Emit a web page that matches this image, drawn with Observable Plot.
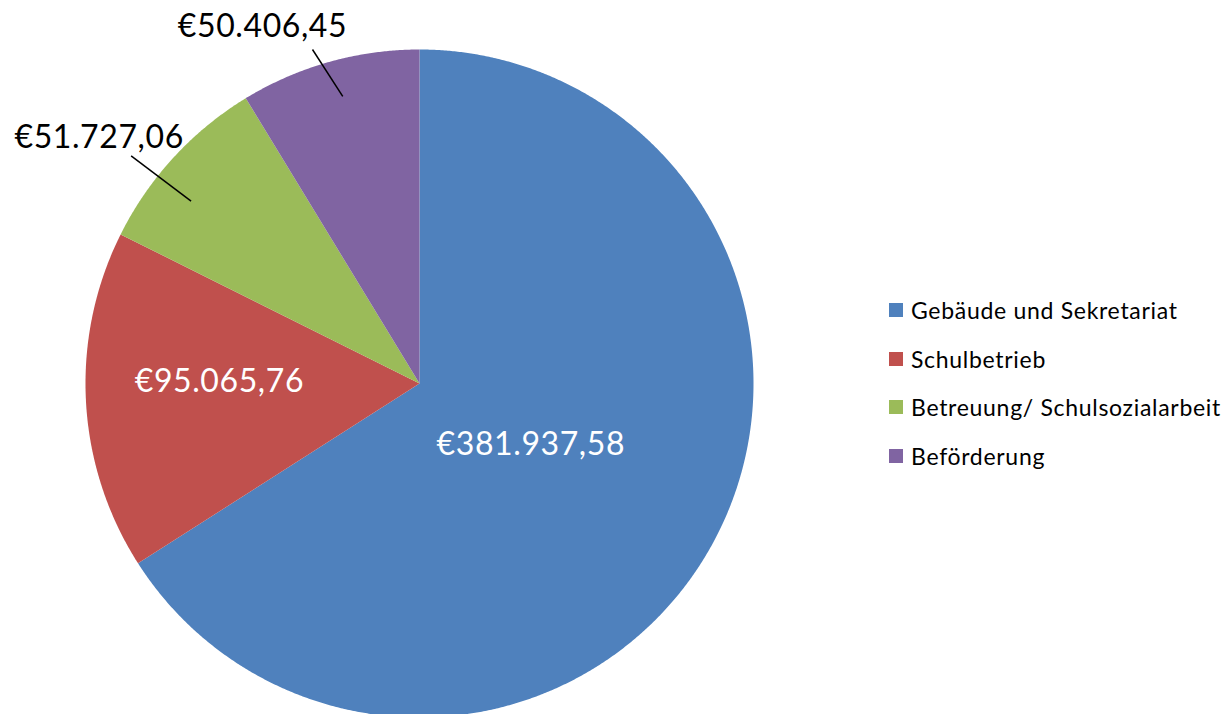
<!DOCTYPE html>
<html>
<head>
<meta charset="utf-8">
<script src="https://cdn.jsdelivr.net/npm/d3@7"></script>
<script src="https://cdn.jsdelivr.net/npm/@observablehq/plot@0.6"></script>
<style>
  html, body { margin: 0; padding: 0; background: #fff; overflow: hidden; }
  #wrap { position: relative; width: 1226px; height: 714px; overflow: hidden; font-family: Lato, "Open Sans", sans-serif; }
  #legend { position: absolute; left: 889px; top: 286px; font-size: 23px; letter-spacing: 0.7px; color: #000; }
  #legend .row { display: flex; align-items: center; height: 48.5px; }
  #legend .sw { width: 14px; height: 14px; margin-right: 8px; }
</style>
</head>
<body>
<div id="wrap"><div id="legend"></div></div>
<script>
const categories = ["Gebäude und Sekretariat", "Schulbetrieb", "Betreuung/ Schulsozialarbeit", "Beförderung"];
const values = [381937.58, 95065.76, 51727.06, 50406.45];
const labels = ["€381.937,58", "€95.065,76", "€51.727,06", "€50.406,45"];
const colors = ["#4F81BD", "#C0504D", "#9BBB59", "#8064A2"];

const data = categories.map((c, i) => ({category: c, value: values[i], label: labels[i]}));
const arcs = d3.pie().sort(null).value(d => d.value)(data);

// polygon points for each slice (unit circle, angle clockwise from 12 o'clock)
const pts = [];
for (const a of arcs) {
  const c = a.data.category;
  pts.push({category: c, x: 0, y: 0});
  const n = Math.max(4, Math.ceil((a.endAngle - a.startAngle) / 0.005));
  for (let k = 0; k <= n; k++) {
    const t = a.startAngle + (a.endAngle - a.startAngle) * k / n;
    pts.push({category: c, x: Math.sin(t), y: Math.cos(t)});
  }
  pts.push({category: c, x: 0, y: 0});
}

// label layout (data units: 1 = pie radius = 334px)
const PX = 1 / 334, DEG = Math.PI / 180;
const layout = [
  {r: 0.38, dyPx: 0},
  {r: 0.6, dyPx: -12},
  {innerOff: -4, outerOff: -4.3, rIn: 0.875, rOut: 1.10, tdx: -32, tdy: -18},
  {innerOff: 0.7, outerOff: -2.1, rIn: 0.89, rOut: 1.05, tdx: -50, tdy: -23}
];
const inside = [], outside = [], leaders = [];
arcs.forEach((a, i) => {
  const mid = (a.startAngle + a.endAngle) / 2, L = layout[i];
  if (L.r !== undefined) {
    inside.push({...a.data, x: L.r * Math.sin(mid), y: L.r * Math.cos(mid) - L.dyPx * PX});
  } else {
    const mi = mid + L.innerOff * DEG, mo = mid + L.outerOff * DEG;
    const x1 = L.rIn * Math.sin(mi), y1 = L.rIn * Math.cos(mi);
    const x2 = L.rOut * Math.sin(mo), y2 = L.rOut * Math.cos(mo);
    leaders.push({x1, y1, x2, y2});
    outside.push({...a.data, x: x2 + L.tdx * PX, y: y2 - L.tdy * PX});
  }
});

const chart = Plot.plot({
  width: 1226,
  height: 714,
  margin: 0,
  style: {fontFamily: "Lato, 'Open Sans', sans-serif", background: "transparent", letterSpacing: "0.6px"},
  x: {domain: [-1, 1], range: [85, 753], axis: null},
  y: {domain: [-1, 1], range: [717, 49], axis: null},
  color: {domain: categories, range: colors},
  marks: [
    Plot.line(pts, {x: "x", y: "y", z: "category", fill: "category", stroke: "none"}),
    Plot.link(leaders, {x1: "x1", y1: "y1", x2: "x2", y2: "y2", stroke: "#000", strokeWidth: 1.5}),
    Plot.text(inside, {x: "x", y: "y", text: "label", fill: "#fff", fontSize: 32}),
    Plot.text(outside, {x: "x", y: "y", text: "label", fill: "#000", fontSize: 32})
  ]
});
const wrap = document.getElementById("wrap");
wrap.insertBefore(chart, wrap.firstChild);

const legend = d3.select("#legend");
categories.forEach((c, i) => {
  const row = legend.append("div").attr("class", "row");
  row.append("div").attr("class", "sw").style("background", colors[i]);
  row.append("span").text(c);
});
</script>
</body>
</html>
